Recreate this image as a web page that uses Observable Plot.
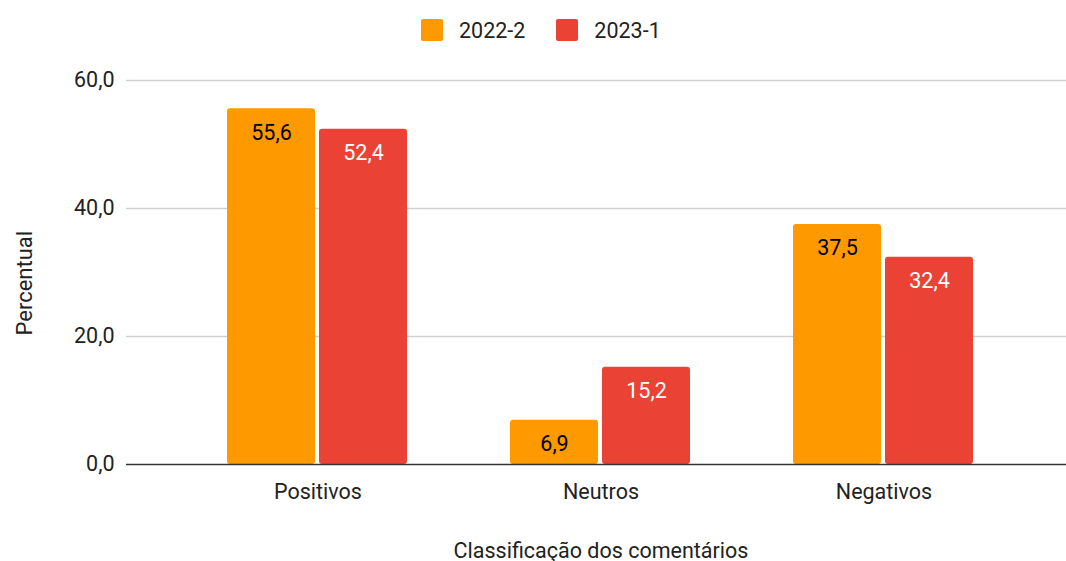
<!DOCTYPE html>
<html>
<head>
<meta charset="utf-8">
<script src="https://cdn.jsdelivr.net/npm/d3@7"></script>
<script src="https://cdn.jsdelivr.net/npm/@observablehq/plot@0.6"></script>
<style>
  body { margin: 0; background: #fff; }
  #legend { height: 60px; display: flex; align-items: center; padding-left: 421px; box-sizing: border-box;
            font-family: Roboto, sans-serif; font-size: 21.5px; color: #222; }
  .item { display: flex; align-items: center; margin-right: 31px; }
  .sw { width: 22px; height: 22px; border-radius: 2px; margin-right: 16px; }
</style>
</head>
<body>
<div id="legend"></div>
<div id="chart"></div>
<script>
const categories = ["Positivos", "Neutros", "Negativos"];
const series = ["2022-2", "2023-1"];
const values2022 = [55.6, 6.9, 37.5];
const values2023 = [52.4, 15.2, 32.4];
const yTicks = [0, 20, 40, 60];
const colors = ["#FF9900", "#EA4335"];
const yTitle = "Percentual";
const xTitle = "Classificação dos comentários";

const data = categories.flatMap((c, i) => [
  {cat: c, series: series[0], value: values2022[i]},
  {cat: c, series: series[1], value: values2023[i]}
]);
const fmt = v => v.toFixed(1).replace(".", ",");

// legend
const legend = document.getElementById("legend");
series.forEach((s, i) => {
  const it = document.createElement("div");
  it.className = "item";
  const sw = document.createElement("div");
  sw.className = "sw";
  sw.style.background = colors[i];
  const t = document.createElement("span");
  t.textContent = s;
  it.appendChild(sw); it.appendChild(t);
  legend.appendChild(it);
});

const W = 1066, ML = 175, MR = 40;
const band = (W - ML - MR) / categories.length;
const firstFacet = () => categories[0];
const ruleExtend = {fx: firstFacet, insetLeft: -50, insetRight: -(band * (categories.length - 1) + MR)};

const plot = Plot.plot({
  width: W,
  height: 501,
  marginLeft: ML,
  marginRight: MR,
  marginTop: 20,
  marginBottom: 97,
  style: {fontFamily: "Roboto, sans-serif", fontSize: "21.5px", color: "#222", background: "#fff"},
  fx: {domain: categories, padding: 0, label: null},
  x: {domain: series, paddingInner: 0.0432, paddingOuter: 0.552, axis: null},
  y: {domain: [0, 60], axis: null},
  color: {domain: series, range: colors},
  marks: [
    Plot.ruleY(yTicks.filter(t => t > 0), {y: d => d, stroke: "#d0d0d0", strokeWidth: 1.3, ...ruleExtend}),
    Plot.barY(data, {fx: "cat", x: "series", y: "value", fill: "series", rx: 3}),
    Plot.ruleY([0], {y: d => d, stroke: "#333", strokeWidth: 1.6, ...ruleExtend}),
    Plot.text(data, {filter: d => d.series === series[0], fx: "cat", x: "series", y: "value",
      text: d => fmt(d.value), dy: 24, fill: "#000", fontSize: 21.5}),
    Plot.text(data, {filter: d => d.series === series[1], fx: "cat", x: "series", y: "value",
      text: d => fmt(d.value), dy: 24, fill: "#fff", fontSize: 21.5}),
    Plot.axisY(yTicks, {anchor: "left", tickSize: 0, tickPadding: 62, tickFormat: fmt, label: null, fill: "#222"}),
    Plot.text([yTitle], {fx: firstFacet, frameAnchor: "left", text: d => d, rotate: -90, dx: -152, dy: 63,
      fontSize: 22, fill: "#222"}),
    Plot.axisFx({anchor: "bottom", tickSize: 0, tickPadding: 19, label: xTitle,
      labelAnchor: "center", labelOffset: 93, labelArrow: false, fill: "#222"})
  ]
});
document.getElementById("chart").appendChild(plot);
</script>
</body>
</html>
